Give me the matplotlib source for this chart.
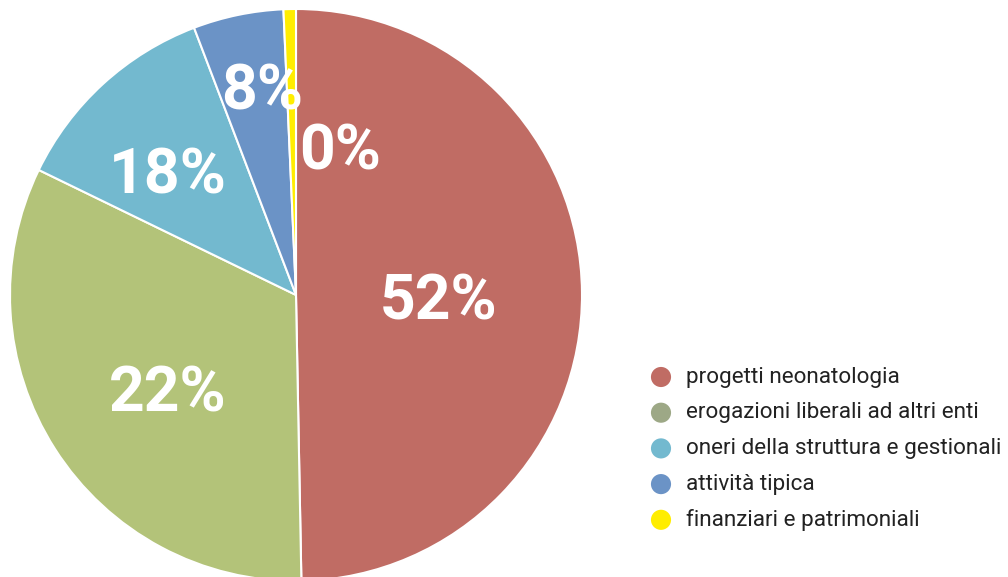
import numpy as np
import matplotlib.pyplot as plt

# slice sizes, labels as printed on the chart
categories = ['progetti neonatologia', 'erogazioni liberali ad altri enti',
              'oneri della struttura e gestionali', 'attività tipica',
              'finanziari e patrimoniali']
values = [49.7, 32.5, 12.0, 5.1, 0.7]
pct_labels = ['52%', '22%', '18%', '8%', '0%']

pie_colors = ['#C06C64', '#B3C379', '#73B9CF', '#6B93C6', '#FFED00']
legend_colors = ['#C06C64', '#9DA886', '#73B9CF', '#6B93C6', '#FFED00']

# where the percentage texts sit (data coords, radius = 1)
label_pos = [(0.497, -0.025), (-0.448, -0.347), (-0.448, 0.415),
             (-0.119, 0.709), (0.154, 0.499)]

fig = plt.figure(figsize=(10.08, 5.77), dpi=100)
ax = fig.add_axes([10 / 1008, -4 / 577, 572 / 1008, 572 / 577])
ax.pie(values, colors=pie_colors, startangle=90, counterclock=False,
       radius=1, wedgeprops=dict(edgecolor='white', linewidth=1.5))
ax.set_xlim(-1, 1)
ax.set_ylim(-1, 1)
ax.set_aspect('equal')
ax.axis('off')

for (x, y), txt in zip(label_pos, pct_labels):
    ax.text(x, y, txt, color='white', fontsize=45, fontweight='bold',
            family='Roboto', ha='center', va='center')

# legend drawn by hand
lax = fig.add_axes([0, 0, 1, 1])
lax.set_xlim(0, 1008)
lax.set_ylim(577, 0)
lax.axis('off')
for i, (lab, col) in enumerate(zip(categories, legend_colors)):
    yy = 377 + i * 35.7
    lax.scatter([661], [yy], s=210, color=col, edgecolors='none')
    lax.text(686, yy, lab, fontsize=16.2, family='Roboto',
             color='#222222', ha='left', va='center')

fig.savefig('out.png', dpi=100)
